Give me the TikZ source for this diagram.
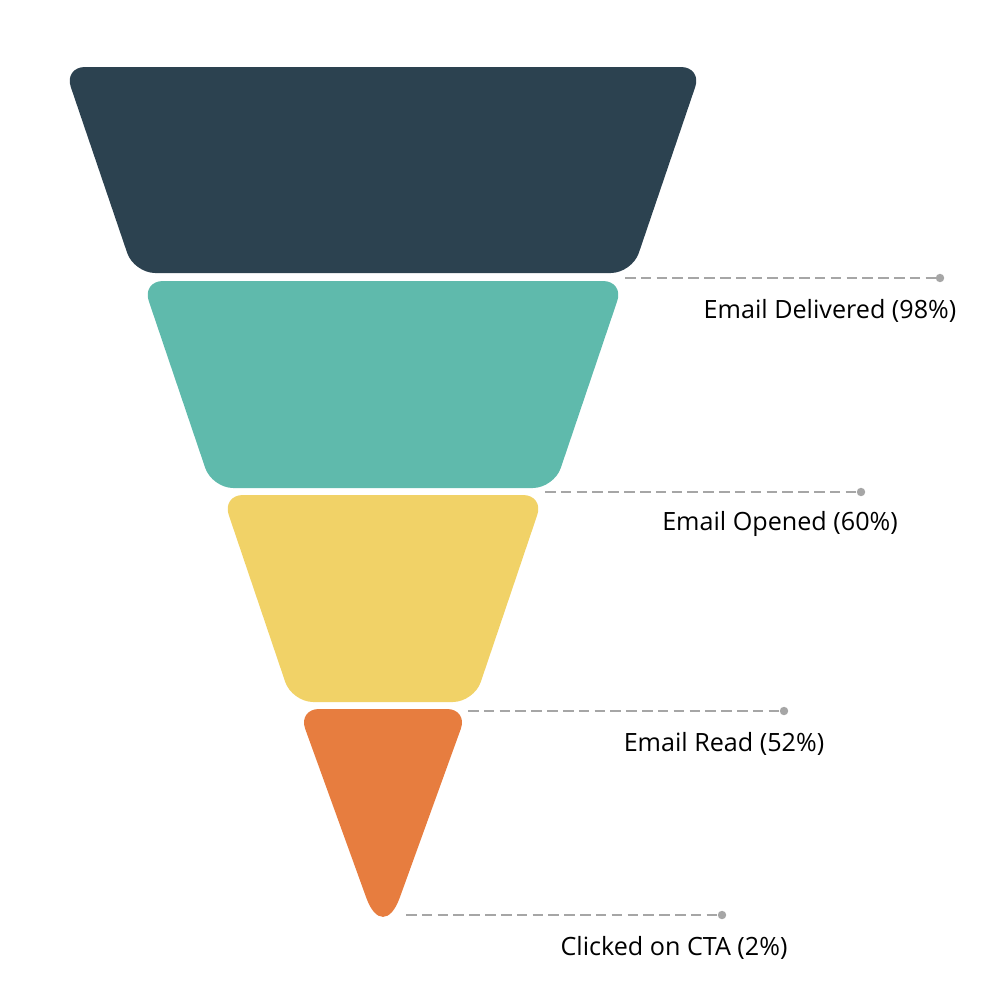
\documentclass[tikz,border=0pt]{standalone}
\usepackage{fontspec}
\setmainfont{Open Sans}
\definecolor{cdark}{HTML}{2C4250}
\definecolor{cteal}{HTML}{5FBAAC}
\definecolor{cyellow}{HTML}{F1D267}
\definecolor{corange}{HTML}{E77D3F}
\definecolor{cline}{HTML}{A6A6A6}
\tikzset{
  guide/.style={draw=cline, line width=0.6pt, dash pattern=on 3pt off 1.5pt},
  gdot/.style={circle, fill=cline, inner sep=0pt, minimum size=2.4pt},
  lbl/.style={font=\fontsize{7.15pt}{8.5pt}\selectfont, text=black, inner sep=0pt},
}
\begin{document}
\begin{tikzpicture}[x=0.01cm, y=-0.01cm]
\useasboundingbox (0,0) rectangle (1000,1000);
% funnel stages
\fill[cdark, rounded corners=6pt] (64,67) -- (702,67) -- (632,273) -- (134,273) -- cycle;
\fill[cteal, rounded corners=6pt] (142,281) -- (624,281) -- (554,488) -- (212,488) -- cycle;
\fill[cyellow, rounded corners=6pt] (222,495) -- (544,495) -- (474,702) -- (292,702) -- cycle;
\fill[corange, rounded corners=6pt] (298,709) -- (468,709) [rounded corners=14pt] -- (383,944) [rounded corners=6pt] -- cycle;
% guide coordinates
\coordinate (s1) at (625,278); \node[gdot] (d1) at (940,278) {};
\coordinate (s2) at (545,492); \node[gdot] (d2) at (861,492) {};
\coordinate (s3) at (468,711); \node[gdot] (d3) at (784,711) {};
\coordinate (s4) at (406,915); \node[gdot] (d4) at (722,915) {};
\draw[guide] (s1) -- (d1.center);
\draw[guide] (s2) -- (d2.center);
\draw[guide] (s3) -- (d3.center);
\draw[guide] (s4) -- (d4.center);
% labels
\node[lbl] (l1) at (830,311) {Email Delivered (98\%)};
\node[lbl] (l2) at (780,524) {Email Opened (60\%)};
\node[lbl] (l3) at (724,744) {Email Read (52\%)};
\node[lbl] (l4) at (674,948) {Clicked on CTA (2\%)};
\end{tikzpicture}
\end{document}
